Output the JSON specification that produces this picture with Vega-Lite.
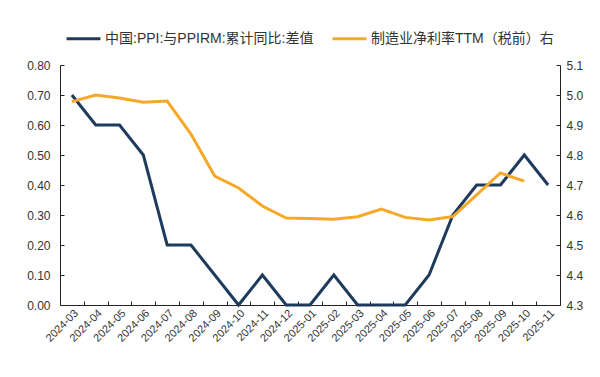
{
  "$schema": "https://vega.github.io/schema/vega-lite/v6.json",
  "width": 500,
  "height": 240,
  "autosize": {"type": "none"},
  "padding": {"left": 60, "top": 65, "right": 40, "bottom": 72},
  "background": "white",
  "config": {
    "view": {"stroke": null},
    "font": "Liberation Sans, Noto Sans CJK SC",
    "axis": {"grid": false, "domainColor": "#222", "tickColor": "#222", "labelColor": "#333", "labelFont": "Liberation Sans", "labelFontSize": 12}
  },
  "data": {
    "values": [
      {"date": "2024-03", "ppi": 0.70, "margin": 4.978},
      {"date": "2024-04", "ppi": 0.60, "margin": 5.0},
      {"date": "2024-05", "ppi": 0.60, "margin": 4.99},
      {"date": "2024-06", "ppi": 0.50, "margin": 4.976},
      {"date": "2024-07", "ppi": 0.20, "margin": 4.98},
      {"date": "2024-08", "ppi": 0.20, "margin": 4.87},
      {"date": "2024-09", "ppi": 0.10, "margin": 4.73},
      {"date": "2024-10", "ppi": 0.00, "margin": 4.69},
      {"date": "2024-11", "ppi": 0.10, "margin": 4.63},
      {"date": "2024-12", "ppi": 0.00, "margin": 4.59},
      {"date": "2025-01", "ppi": 0.00, "margin": 4.588},
      {"date": "2025-02", "ppi": 0.10, "margin": 4.586},
      {"date": "2025-03", "ppi": 0.00, "margin": 4.594},
      {"date": "2025-04", "ppi": 0.00, "margin": 4.62},
      {"date": "2025-05", "ppi": 0.00, "margin": 4.592},
      {"date": "2025-06", "ppi": 0.10, "margin": 4.583},
      {"date": "2025-07", "ppi": 0.30, "margin": 4.595},
      {"date": "2025-08", "ppi": 0.40, "margin": 4.667},
      {"date": "2025-09", "ppi": 0.40, "margin": 4.74},
      {"date": "2025-10", "ppi": 0.50, "margin": 4.713},
      {"date": "2025-11", "ppi": 0.40, "margin": null}
    ]
  },
  "encoding": {
    "x": {
      "field": "date", "type": "ordinal", "title": null,
      "scale": {"type": "band", "paddingInner": 0, "paddingOuter": 0},
      "bandPosition": 0.5,
      "axis": {"tickBand": "extent", "labelAngle": -45, "labelFontSize": 11, "ticks": true, "tickSize": -4, "labelPadding": 6}
    }
  },
  "layer": [
    {
      "mark": {"type": "line", "strokeWidth": 3},
      "encoding": {
        "y": {
          "field": "ppi", "type": "quantitative", "title": null,
          "scale": {"domain": [0, 0.8], "nice": false},
          "axis": {"values": [0, 0.1, 0.2, 0.3, 0.4, 0.5, 0.6, 0.7, 0.8], "format": ".2f", "tickSize": -4, "labelPadding": 14}
        },
        "color": {
          "datum": "中国:PPI:与PPIRM:累计同比:差值",
          "scale": {"domain": ["中国:PPI:与PPIRM:累计同比:差值", "制造业净利率TTM（税前）右"], "range": ["#1F3B5C", "#F5A82A"]},
          "legend": {
            "title": null, "orient": "none", "direction": "horizontal",
            "legendX": 5, "legendY": -45,
            "symbolType": "stroke", "symbolStrokeWidth": 3, "symbolSize": 1150,
            "labelFontSize": 14, "labelColor": "#333", "labelFont": "Liberation Sans, Noto Sans CJK SC",
            "labelOffset": 3, "columnPadding": 12, "labelLimit": 300
          }
        }
      }
    },
    {
      "mark": {"type": "line", "strokeWidth": 3},
      "encoding": {
        "y": {
          "field": "margin", "type": "quantitative", "title": null,
          "scale": {"domain": [4.3, 5.1], "nice": false, "zero": false},
          "axis": {"orient": "right", "values": [4.3, 4.4, 4.5, 4.6, 4.7, 4.8, 4.9, 5.0, 5.1], "format": ".1f", "tickSize": -4, "labelPadding": 10}
        },
        "color": {"datum": "制造业净利率TTM（税前）右"}
      }
    }
  ],
  "resolve": {"scale": {"y": "independent"}}
}
